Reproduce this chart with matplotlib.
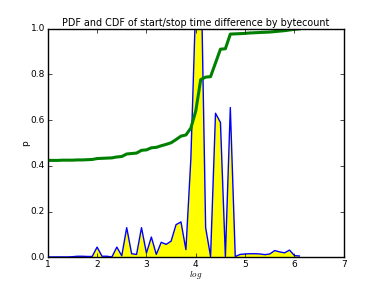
import numpy as np
import matplotlib
matplotlib.use("Agg")
import matplotlib.pyplot as plt

plt.style.use('classic')

# log10 of byte count, bins of 0.1
logx = np.round(np.arange(1.0, 6.15, 0.1), 1)

pdf = [0.002, 0.002, 0.002, 0.002, 0.002, 0.003, 0.005, 0.005, 0.004, 0.004,
       0.045, 0.005, 0.005, 0.002, 0.045, 0.007, 0.13, 0.016, 0.013, 0.13,
       0.019, 0.089, 0.013, 0.066, 0.057, 0.071, 0.143, 0.155, 0.034, 0.43,
       1.12, 1.35, 0.13, 0.004, 0.63, 0.59, 0.004, 0.655, 0.004, 0.013,
       0.015, 0.016, 0.016, 0.015, 0.012, 0.015, 0.03, 0.024, 0.02, 0.032,
       0.008, 0.006]

cdf = [0.424, 0.424, 0.424, 0.425, 0.425, 0.425, 0.426, 0.426, 0.427, 0.428,
       0.432, 0.433, 0.434, 0.435, 0.439, 0.441, 0.452, 0.454, 0.456, 0.468,
       0.47, 0.479, 0.481, 0.488, 0.494, 0.501, 0.515, 0.53, 0.535, 0.565,
       0.64, 0.777, 0.788, 0.79, 0.85, 0.91, 0.912, 0.976, 0.977, 0.978,
       0.979, 0.981, 0.982, 0.983, 0.984, 0.985, 0.987, 0.989, 0.991, 0.994,
       0.997, 0.999]

fig = plt.figure(figsize=(3.82, 2.86), dpi=100, facecolor='white')
ax = fig.add_axes([0.125, 0.1, 0.775, 0.8])

ax.fill_between(logx, 0, pdf, color='yellow', linewidth=0)
ax.plot(logx, pdf, color='b', linewidth=1.0)
ax.plot(logx, cdf, color='g', linewidth=2.2)

ax.set_xlim(1, 7)
ax.set_ylim(0, 1)
ax.set_yticks(np.arange(0, 1.01, 0.2))
ax.tick_params(labelsize=6.5, length=3, pad=2)
ax.set_title("PDF and CDF of start/stop time difference by bytecount", fontsize=6.9, pad=2)
ax.set_xlabel("$log$", fontsize=6.5, labelpad=0)
ax.set_ylabel("p", fontsize=6.5, labelpad=0)

fig.savefig("out.png", dpi=100, facecolor='white')
